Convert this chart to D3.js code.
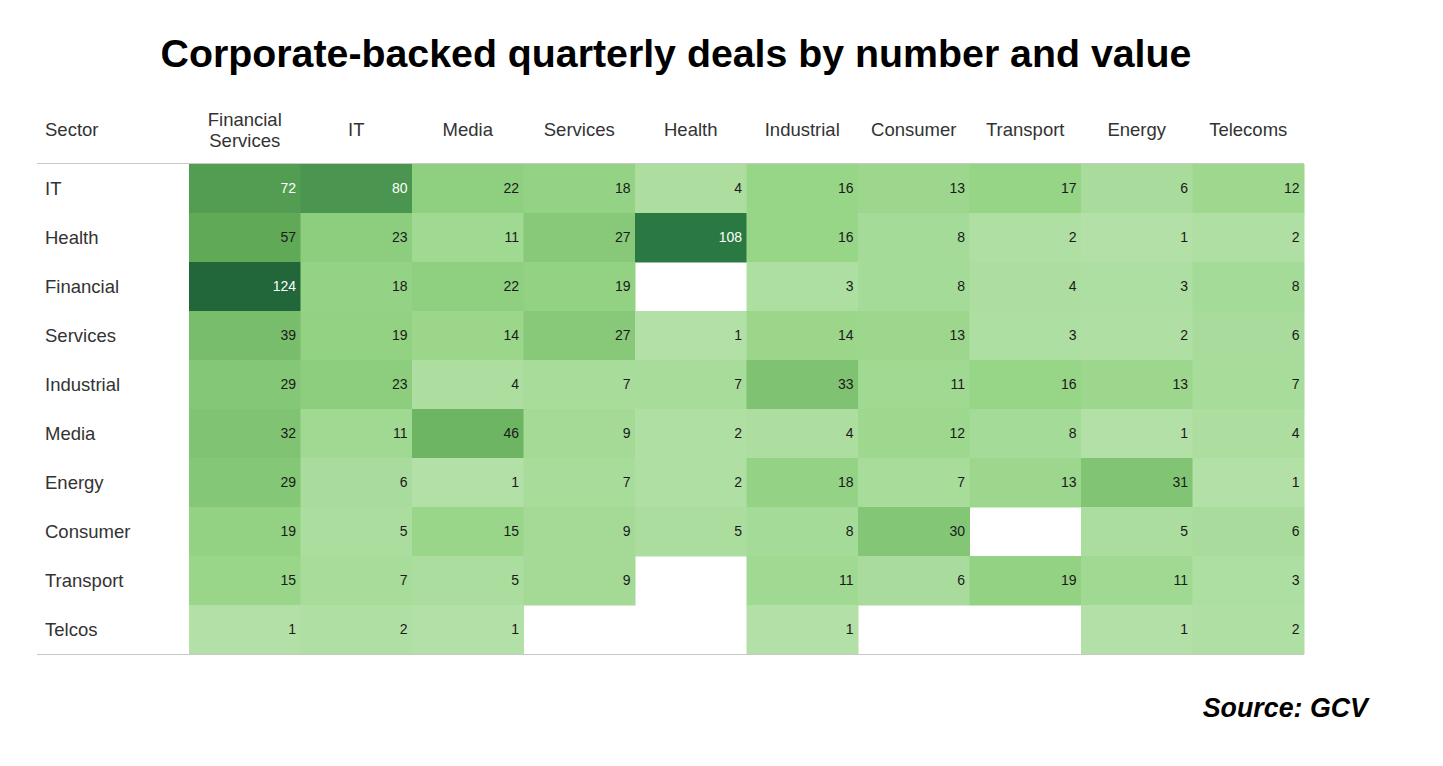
<!DOCTYPE html>
<html><head><meta charset="utf-8">
<script src="https://cdn.jsdelivr.net/npm/d3@7"></script>
<style>body{margin:0;background:#fff;} text{font-family:"Liberation Sans",Arial,sans-serif;}</style>
</head><body><svg id="c" width="1443" height="766"></svg>
<script>
const columns = ["Financial Services","IT","Media","Services","Health","Industrial","Consumer","Transport","Energy","Telecoms"];
const rows = ["IT","Health","Financial","Services","Industrial","Media","Energy","Consumer","Transport","Telcos"];
const valIT         = [72,80,22,18,4,16,13,17,6,12];
const valHealth     = [57,23,11,27,108,16,8,2,1,2];
const valFinancial  = [124,18,22,19,null,3,8,4,3,8];
const valServices   = [39,19,14,27,1,14,13,3,2,6];
const valIndustrial = [29,23,4,7,7,33,11,16,13,7];
const valMedia      = [32,11,46,9,2,4,12,8,1,4];
const valEnergy     = [29,6,1,7,2,18,7,13,31,1];
const valConsumer   = [19,5,15,9,5,8,30,null,5,6];
const valTransport  = [15,7,5,9,null,11,6,19,11,3];
const valTelcos     = [1,2,1,null,null,1,null,null,1,2];
const values = [valIT,valHealth,valFinancial,valServices,valIndustrial,valMedia,valEnergy,valConsumer,valTransport,valTelcos];

const svg = d3.select("#c");
const gLeft = 37, gridL = 189, gridR = 1304, gTop = 164, gBottom = 654;

const x = d3.scaleBand().domain(columns).range([gridL, gridR]);
const y = d3.scaleBand().domain(rows).range([gTop, gBottom]);
const color = d3.scaleLinear()
  .domain([1, 16, 32, 46, 57, 80, 108, 124])
  .range(["#b2e0a6","#97d587","#80c473","#6db562","#60a957","#4a9650","#2b7942","#22673a"])
  .clamp(true);

const cells = [];
values.forEach((arr, i) => arr.forEach((v, j) => { if (v != null) cells.push({r: rows[i], c: columns[j], v}); }));

svg.append("text").attr("x", 676).attr("y", 67).attr("text-anchor","middle")
  .attr("font-size", 39.3).attr("font-weight","bold").attr("fill","#000")
  .text("Corporate-backed quarterly deals by number and value");

svg.append("g").selectAll("rect").data(cells).join("rect")
  .attr("x", d => x(d.c)).attr("y", d => y(d.r))
  .attr("width", x.bandwidth() + 0.5).attr("height", y.bandwidth() + 0.5)
  .attr("fill", d => color(d.v));

svg.append("g").selectAll("text").data(cells).join("text")
  .attr("x", d => x(d.c) + x.bandwidth() - 4.5).attr("y", d => y(d.r) + y.bandwidth()/2)
  .attr("dy","0.35em").attr("text-anchor","end").attr("font-size", 14)
  .attr("fill", d => d.v >= 70 ? "#fff" : "#1a1a1a")
  .text(d => d.v);

svg.append("g").selectAll("text").data(rows).join("text")
  .attr("x", 45).attr("y", d => y(d) + y.bandwidth()/2).attr("dy","0.35em")
  .attr("font-size", 18.5).attr("fill","#333").text(d => d);

svg.append("text").attr("x", 45).attr("y", 130).attr("dy","0.35em")
  .attr("font-size", 18.5).attr("fill","#333").text("Sector");
svg.append("g").selectAll("text").data(columns).join("text")
  .attr("x", d => x(d) + x.bandwidth()/2).attr("text-anchor","middle")
  .attr("font-size", 18.5).attr("fill","#333")
  .each(function(d){
    const parts = d === "Financial Services" ? ["Financial","Services"] : [d];
    const t = d3.select(this);
    parts.forEach((p, k) => t.append("tspan").attr("x", x(d) + x.bandwidth()/2)
      .attr("y", parts.length === 1 ? 130 : 119.5 + k*21).attr("dy","0.35em").text(p));
  });

svg.append("line").attr("x1", gLeft).attr("x2", gridR).attr("y1", gTop - 0.5).attr("y2", gTop - 0.5)
  .attr("stroke","#c8c8c8").attr("stroke-width",1);
svg.append("line").attr("x1", gLeft).attr("x2", gridR).attr("y1", gBottom + 0.5).attr("y2", gBottom + 0.5)
  .attr("stroke","#c8c8c8").attr("stroke-width",1);

svg.append("text").attr("x", 1368).attr("y", 717).attr("text-anchor","end")
  .attr("font-size", 26.8).attr("font-weight","bold").attr("font-style","italic").attr("fill","#000")
  .text("Source: GCV");
</script></body></html>
